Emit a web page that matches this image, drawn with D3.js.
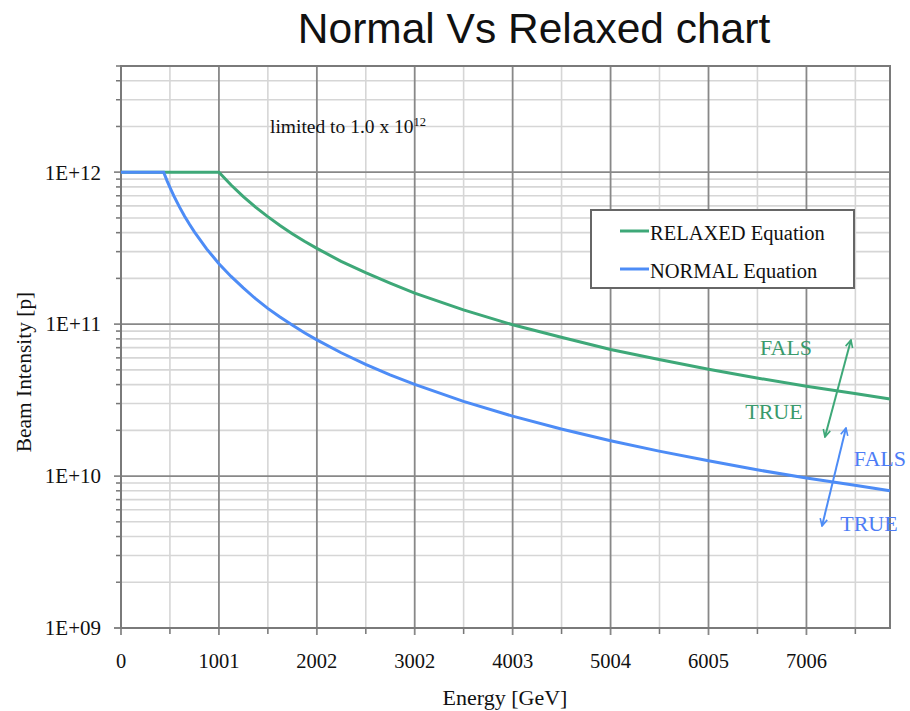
<html>

<head>
    <script src="https://d3js.org/d3.v7.min.js"></script>
    <style>
        body { margin: 0; background: #fff; }
        text { font-family: "Liberation Serif", "Times New Roman", serif; fill: #111; }
    </style>
</head>

<body>
    <svg id="svg" width="910" height="711"></svg>
    <script>
        // values
        const energy = [0, 436, 470, 500, 540, 575, 600, 650, 700, 750, 875, 1001,
            1125, 1250, 1375, 1500, 1625, 1750, 1875, 2002,
            2250, 2500, 2750, 3002,
            3500, 4003, 4500, 5004, 5500, 6005, 6500, 7006, 7500, 7860];
        const relaxed = [1e12, 1e12, 1e12, 1e12, 1e12, 1e12, 1e12, 1e12, 1e12, 1e12, 1e12, 1e12,
            8.23e11, 6.9e11, 5.89e11, 5.1e11, 4.46e11, 3.94e11, 3.51e11, 3.15e11,
            2.59e11, 2.18e11, 1.86e11, 1.6e11,
            1.24e11, 9.9e10, 8.2e10, 6.8e10, 5.85e10, 5.05e10, 4.42e10, 3.9e10, 3.49e10, 3.22e10];
        const normal = [1e12, 1e12, 8.81e11, 7.95e11, 6.99e11, 6.3e11, 5.87e11, 5.13e11, 4.54e11, 4.05e11, 3.13e11, 2.5e11,
            2.06e11, 1.73e11, 1.47e11, 1.27e11, 1.115e11, 9.86e10, 8.78e10, 7.88e10,
            6.48e10, 5.44e10, 4.64e10, 4.01e10,
            3.1e10, 2.48e10, 2.04e10, 1.71e10, 1.46e10, 1.26e10, 1.1e10, 9.7e9, 8.7e9, 8.0e9];
        const xTicks = [0, 1001, 2002, 3002, 4003, 5004, 6005, 7006];
        const xMinor = [500, 1501, 2502, 3502, 4503, 5504, 6505, 7506];
        const yTicks = [1e9, 1e10, 1e11, 1e12];
        const yLabels = ["1E+09", "1E+10", "1E+11", "1E+12"];
        const seriesNames = ["RELAXED Equation", "NORMAL Equation"];
        const colors = ["#3ea878", "#4d8cf6"];
        // annotations: [energy, intensity]
        const arrowGreen = [[7195, 1.81e10], [7461, 7.85e10]];
        const arrowBlue = [[7165, 4.69e9], [7410, 2.07e10]];
        const notes = [
            { t: "FALS", e: 6797, v: 7.06e10, c: 0 },
            { t: "TRUE", e: 6674, v: 2.68e10, c: 0 },
            { t: "FALS", e: 7757, v: 1.31e10, c: 1 },
            { t: "TRUE", e: 7645, v: 4.9e9, c: 1 }
        ];

        const svg = d3.select('#svg');
        const margin = { top: 66, right: 20, bottom: 83, left: 121 };
        const width = +svg.attr("width");
        const height = +svg.attr("height");

        const xScale = d3.scaleLinear().domain([0, 7860]).range([margin.left, width - margin.right]);
        const yScale = d3.scaleLog().domain([1e9, 5e12]).range([height - margin.bottom, margin.top]);
        const [x0, x1] = xScale.range();
        const [y1, y0] = yScale.range();

        let yMinor = [];
        yTicks.forEach(d => { for (let k = 2; k <= 9; k++) if (d * k <= 5e12) yMinor.push(d * k); });

        const grid = svg.append("g");
        grid.selectAll("line.vmin").data(xMinor).join("line")
            .attr("x1", d => xScale(d)).attr("x2", d => xScale(d))
            .attr("y1", y0).attr("y2", y1 + 6)
            .style("stroke", "#d6d6d6").style("stroke-width", 1.6);
        grid.selectAll("line.hmin").data(yMinor).join("line")
            .attr("x1", x0 - 5).attr("x2", x1)
            .attr("y1", d => yScale(d)).attr("y2", d => yScale(d))
            .style("stroke", "#d6d6d6").style("stroke-width", 1.6);
        grid.selectAll("line.tmin").data(yMinor).join("line")
            .attr("x1", x0 - 5).attr("x2", x0)
            .attr("y1", d => yScale(d)).attr("y2", d => yScale(d))
            .style("stroke", "#777").style("stroke-width", 1.4);
        grid.selectAll("line.xtmin").data(xMinor).join("line")
            .attr("x1", d => xScale(d)).attr("x2", d => xScale(d))
            .attr("y1", y1).attr("y2", y1 + 6)
            .style("stroke", "#777").style("stroke-width", 1.4);
        grid.selectAll("line.vmaj").data(xTicks).join("line")
            .attr("x1", d => xScale(d)).attr("x2", d => xScale(d))
            .attr("y1", y0).attr("y2", y1 + 7)
            .style("stroke", "#888").style("stroke-width", 1.8);
        grid.selectAll("line.hmaj").data(yTicks).join("line")
            .attr("x1", x0 - 7).attr("x2", x1)
            .attr("y1", d => yScale(d)).attr("y2", d => yScale(d))
            .style("stroke", "#888").style("stroke-width", 1.8);

        // frame
        svg.append("rect")
            .attr("x", x0).attr("y", y0)
            .attr("width", x1 - x0).attr("height", y1 - y0)
            .style("fill", "none").style("stroke", "#7a7a7a").style("stroke-width", 2);

        // tick labels
        svg.selectAll("text.xl").data(xTicks).join("text")
            .attr("x", d => xScale(d)).attr("y", y1 + 40)
            .style("text-anchor", "middle").style("font-size", "20.5px")
            .text(d => d);
        svg.selectAll("text.yl").data(yTicks).join("text")
            .attr("x", x0 - 20).attr("y", d => yScale(d))
            .attr("dy", "0.35em")
            .style("text-anchor", "end").style("font-size", "21px")
            .text((d, i) => yLabels[i]);

        // axis titles
        svg.append("text")
            .attr("x", 505).attr("y", 705)
            .style("text-anchor", "middle").style("font-size", "22px")
            .text("Energy [GeV]");
        svg.append("text")
            .attr("transform", "translate(31,372) rotate(-90)")
            .style("text-anchor", "middle").style("font-size", "21.4px")
            .text("Beam Intensity [p]");
        svg.append("text")
            .attr("x", 534).attr("y", 43)
            .style("text-anchor", "middle").style("font-size", "42.5px")
            .style("font-family", "'Liberation Sans', Arial, sans-serif")
            .text("Normal Vs Relaxed chart");

        // curves
        const line = d3.line().x(d => xScale(d[0])).y(d => yScale(d[1]));
        [relaxed, normal].forEach((s, i) => {
            svg.append("path")
                .datum(energy.map((e, j) => [e, s[j]]))
                .attr("d", line)
                .style("fill", "none").style("stroke", colors[i]).style("stroke-width", 3);
        });

        // annotation text
        const lim = svg.append("text")
            .attr("x", xScale(1523)).attr("y", yScale(1.81e12))
            .style("font-size", "19.5px");
        lim.append("tspan").text("limited to 1.0 x 10");
        lim.append("tspan").attr("dy", "-7").style("font-size", "12.5px").text("12");

        // legend
        const leg = svg.append("g");
        leg.append("rect").attr("x", 591).attr("y", 210).attr("width", 263).attr("height", 78)
            .style("fill", "#fff").style("stroke", "#666").style("stroke-width", 2);
        seriesNames.forEach((n, i) => {
            leg.append("line").attr("x1", 620).attr("x2", 649)
                .attr("y1", 231 + i * 38).attr("y2", 231 + i * 38)
                .style("stroke", colors[i]).style("stroke-width", 3);
            leg.append("text").attr("x", 650).attr("y", 240 + i * 38)
                .style("font-size", "20.5px").text(n);
        });

        // arrows
        const defs = svg.append("defs");
        colors.forEach((c, i) => {
            defs.append("marker").attr("id", "ar" + i)
                .attr("viewBox", "0 0 10 10").attr("refX", 9).attr("refY", 5)
                .attr("markerWidth", 9).attr("markerHeight", 9)
                .attr("markerUnits", "userSpaceOnUse")
                .attr("orient", "auto-start-reverse")
                .append("path").attr("d", "M1,1 L9,5 L1,9")
                .style("fill", "none").style("stroke", c).style("stroke-width", 1.8);
        });
        [arrowGreen, arrowBlue].forEach((a, i) => {
            svg.append("line")
                .attr("x1", xScale(a[0][0])).attr("y1", yScale(a[0][1]))
                .attr("x2", xScale(a[1][0])).attr("y2", yScale(a[1][1]))
                .style("stroke", colors[i]).style("stroke-width", 2)
                .attr("marker-start", `url(#ar${i})`).attr("marker-end", `url(#ar${i})`);
        });
        svg.selectAll("text.note").data(notes).join("text")
            .attr("x", d => xScale(d.e)).attr("y", d => yScale(d.v))
            .attr("dy", "0.35em")
            .style("text-anchor", "middle").style("font-size", "22px")
            .style("fill", d => d.c === 0 ? "#3a9a6c" : "#4d7cf6")
            .text(d => d.t);
    </script>
</body>

</html>
